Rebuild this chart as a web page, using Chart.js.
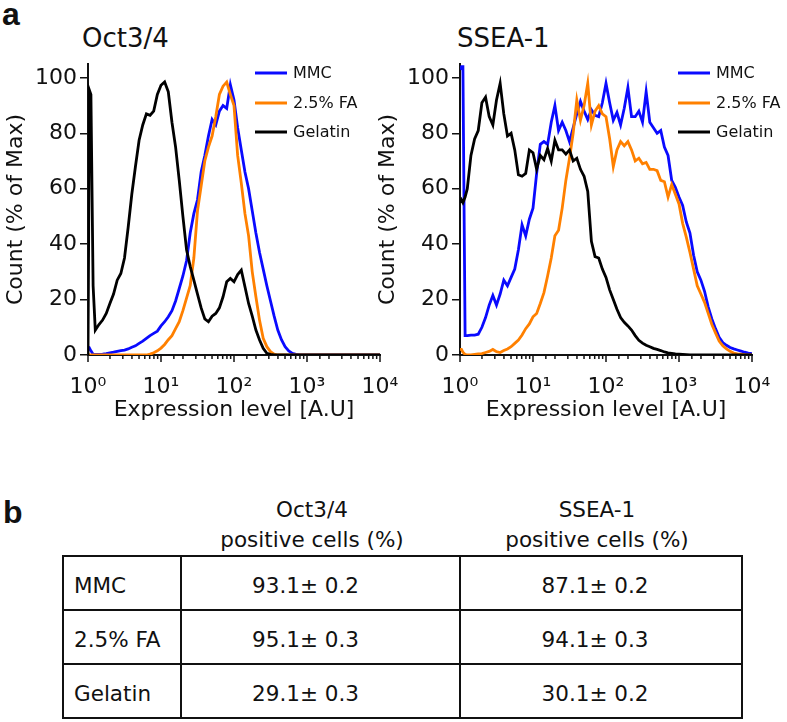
<!DOCTYPE html>
<html>
<head>
<meta charset="utf-8">
<script src="https://cdn.jsdelivr.net/npm/chart.js@4.4.1/dist/chart.umd.min.js"></script>
<style>
  body { margin: 0; background: #fff; }
  #page { position: relative; width: 787px; height: 722px; overflow: hidden; font-family: "DejaVu Sans", sans-serif; color: #111; }
  #page canvas { position: absolute; top: 0; }
  .tag { position: absolute; font-family: "Liberation Sans", Arial, sans-serif; font-weight: bold; font-size: 32px; line-height: 1; }
  .ptitle { position: absolute; font-size: 26px; line-height: 1; }
  #tbl { position: absolute; left: 62px; top: 495px; width: 679px; border-collapse: collapse; table-layout: fixed; font-size: 21.5px; }
  #tbl th { font-weight: normal; line-height: 30px; padding: 0; border: none; text-align: center; vertical-align: bottom; }
  #tbl td { border: 2px solid #111; height: 54px; box-sizing: border-box; padding: 5px 0 0 0; text-align: center; }
  #tbl td.name { text-align: left; padding-left: 10px; }
  #tbl .c2 { padding-right: 30px; }
  #tbl .c3 { padding-right: 12px; }
  #tbl th.c2 { padding-right: 17px; }
  #tbl th.c3 { padding-right: 8px; }
</style>
</head>
<body>
<div id="page">
  <div class="tag" style="left:2px; top:-2px;">a</div>
  <div class="ptitle" style="left:82px; top:25px;">Oct3/4</div>
  <div class="ptitle" style="left:457px; top:25px;">SSEA-1</div>
  <canvas id="oct4" width="410" height="430" style="left:0px;"></canvas>
  <canvas id="ssea" width="415" height="430" style="left:372px;"></canvas>
  <div class="tag" style="left:3px; top:496px;">b</div>
  <table id="tbl">
    <colgroup><col style="width:118px"><col style="width:279px"><col style="width:282px"></colgroup>
    <thead><tr id="thead"></tr></thead>
    <tbody id="tbody"></tbody>
  </table>
</div>
<script>
// histogram bins, as log10 of expression level
const binsLog = [0, 0.02, 0.04, 0.07, 0.1, 0.15, 0.2, 0.25, 0.3, 0.35,
  0.4, 0.45, 0.5, 0.55, 0.6, 0.65, 0.7, 0.75, 0.8, 0.85,
  0.9, 0.95, 1, 1.05, 1.1, 1.15, 1.2, 1.25, 1.3, 1.35,
  1.4, 1.45, 1.5, 1.55, 1.6, 1.65, 1.7, 1.75, 1.8, 1.85,
  1.9, 1.95, 2, 2.05, 2.1, 2.15, 2.2, 2.25, 2.3, 2.35,
  2.4, 2.45, 2.5, 2.55, 2.6, 2.65, 2.7, 2.75, 2.8, 2.85,
  2.9, 2.95, 3, 3.05, 3.1, 3.15, 3.2, 3.25, 3.3, 3.35,
  3.4, 3.45, 3.5, 3.55, 3.6, 3.65, 3.7, 3.75, 3.8, 3.85,
  3.9, 3.95, 4];

const seriesNames = ['MMC', '2.5% FA', 'Gelatin'];
const seriesColors = ['#0a0aff', '#ff8000', '#000000'];

// Oct3/4 panel, count (% of max)
const oct4Mmc = [2, 2.5, 1.5, 0.3, 0.2, 0.2, 0.3, 0.5, 0.8, 1.0,
  1.3, 1.6, 1.8, 2.2, 2.8, 3.3, 4.2, 5.0, 6.0, 7.0,
  7.8, 8.6, 10.5, 12, 13.8, 16, 19.5, 24, 28.5, 34,
  44, 51, 56, 66, 72, 79, 85, 83, 88, 90,
  89, 97.5, 92, 82, 74, 66, 60, 52, 44, 37,
  31, 25, 19.5, 14, 9, 5.5, 3, 1.5, 0.6, 0.2,
  0, 0, 0, 0, 0, 0, 0, 0, 0, 0,
  0, 0, 0, 0, 0, 0, 0, 0, 0, 0,
  0, 0, 0];
const oct4Fa = [0, 0, 0, 0, 0, 0, 0, 0, 0, 0,
  0, 0, 0, 0, 0, 0, 0, 0, 0, 0.3,
  0.8, 1.5, 2.5, 3.8, 5.5, 7, 9.5, 12, 16, 20.5,
  25, 35, 52, 61, 70, 75, 79, 86, 94, 97,
  98.5, 94, 90, 72, 62, 51, 43, 30, 21, 12.5,
  6, 3, 1.2, 0.3, 0, 0, 0, 0, 0, 0,
  0, 0, 0, 0, 0, 0, 0, 0, 0, 0,
  0, 0, 0, 0, 0, 0, 0, 0, 0, 0,
  0, 0, 0];
const oct4Gel = [0, 95.5, 94, 25, 9, 11, 12.6, 15, 18.6, 22,
  27, 29.4, 35, 46, 58, 68, 77.5, 83, 87, 86.5,
  88, 94, 97.3, 98.5, 95, 84, 75, 63, 50, 38,
  32, 27, 22, 17, 13, 12, 14, 15, 17, 21,
  26.4, 27.6, 26.4, 29, 30.6, 24.6, 18.6, 14, 9, 5.4,
  2.4, 0.6, 0.2, 0, 0, 0, 0, 0, 0, 0,
  0, 0, 0, 0, 0, 0, 0, 0, 0, 0,
  0, 0, 0, 0, 0, 0, 0, 0, 0, 0,
  0, 0, 0];

// SSEA-1 panel, count (% of max)
const sseaMmc = [103, 104, 104, 7, 7, 7.2, 7.2, 7.5, 10, 13.5,
  18, 21.5, 18, 22, 27, 25, 28, 31, 38, 47,
  43, 49, 53, 65.5, 76, 77, 76, 84, 90, 81,
  84, 81, 77, 82, 87, 91.5, 88, 85, 88.5, 86.5,
  86, 91, 98, 91, 84.7, 87.5, 83, 89, 96.5, 86,
  86, 88, 84, 95, 84, 82, 80, 81, 75, 72,
  63, 60.5, 57, 54, 48, 44, 36, 30, 27, 23,
  17.4, 13, 9.5, 6.4, 4.5, 3.5, 2.7, 2.2, 1.8, 1.4,
  1.0, 0.7, 0.5];
const sseaFa = [2, 2, 1, 0.2, 0, 0, 0.2, 0.4, 0.5, 0.9,
  1.3, 2, 1.2, 0.9, 1.6, 2.2, 3, 4.2, 5.4, 7.2,
  9.5, 11.2, 13.8, 15, 18.6, 22.5, 28.5, 35, 43, 45,
  53, 63, 71, 80, 92, 84.7, 90, 98, 83, 88,
  90, 87, 86, 78, 68, 74, 77, 75.5, 77, 74,
  70, 71, 69, 69.5, 67, 67, 66.5, 63, 62.5, 57,
  61.5, 58, 54.5, 47.5, 42.5, 37, 31, 25, 22, 19,
  15, 11, 8, 5, 3.3, 2.2, 1.3, 0.7, 0.4, 0.3,
  0.1, 0, 0];
const sseaGel = [55, 56, 55, 57, 60, 72, 78, 81, 91, 93,
  86, 83, 92, 98, 87, 79, 80, 74, 65, 64.5,
  65.5, 74, 73, 67, 72, 70.5, 74.5, 70, 77.5, 74,
  74, 72.5, 74, 70, 71, 67, 64.5, 59, 41, 35.5,
  35, 31, 28, 23.5, 20, 16.5, 13.5, 11.8, 10.5, 9,
  7, 5.3, 4.3, 3.5, 3, 2.4, 2, 1.6, 1.1, 0.8,
  0.6, 0.4, 0.3, 0.2, 0.1, 0, 0, 0, 0, 0,
  0, 0, 0, 0, 0, 0, 0, 0, 0, 0,
  0, 0, 0];

// table b
const tableMarkers = ['Oct3/4', 'SSEA-1'];
const tableRows = ['MMC', '2.5% FA', 'Gelatin'];
const oct4Mean = [93.1, 95.1, 29.1];
const oct4Sd = [0.2, 0.3, 0.3];
const sseaMean = [87.1, 94.1, 30.1];
const sseaSd = [0.2, 0.3, 0.2];

const yTicks = [0, 20, 40, 60, 80, 100];
const sup = ['\u2070', '\u00b9', '\u00b2', '\u00b3', '\u2074'];

const FONT = "'DejaVu Sans', sans-serif";
const INK = '#111';
Chart.defaults.font.family = FONT;
Chart.defaults.color = INK;

function isPow10(v) {
    const l = Math.log10(v);
    return Math.abs(l - Math.round(l)) < 1e-9;
}

// tick marks under the log axis (long at decades) + the little legend in the corner
const histDecor = {
    id: 'histDecor',
    afterDraw(chart, args, opts) {
        const ctx = chart.ctx;
        const x = chart.scales.x;
        ctx.save();
        ctx.strokeStyle = INK;
        ctx.lineWidth = 1.5;
        x.ticks.forEach(t => {
            const px = x.getPixelForValue(t.value);
            const len = isPow10(t.value) ? 7 : 4;
            ctx.beginPath();
            ctx.moveTo(px, x.top);
            ctx.lineTo(px, x.top + len);
            ctx.stroke();
        });
        ctx.font = '16px ' + FONT;
        ctx.textBaseline = 'middle';
        ctx.fillStyle = INK;
        chart.data.datasets.forEach((ds, i) => {
            const y = opts.rows[i];
            ctx.strokeStyle = ds.borderColor;
            ctx.lineWidth = 3;
            ctx.beginPath();
            ctx.moveTo(opts.x, y);
            ctx.lineTo(opts.x + 32, y);
            ctx.stroke();
            ctx.fillText(ds.label, opts.x + 38, y + 1);
        });
        ctx.restore();
    }
};

function makeHist(canvasId, series, legendX) {
    const canvas = document.getElementById(canvasId);
    const datasets = series.map((vals, i) => ({
        label: seriesNames[i],
        data: binsLog.map((e, k) => ({ x: Math.pow(10, e), y: vals[k] })),
        borderColor: seriesColors[i],
        borderWidth: 2.8,
        pointRadius: 0,
        fill: false,
        order: 3 - i   // gelatin drawn on top
    }));

    return new Chart(canvas, {
        type: 'line',
        data: { datasets },
        plugins: [histDecor],
        options: {
            responsive: false,
            animation: false,
            layout: { padding: { left: 0, right: canvas.width - 380, top: 64, bottom: 0 } },
            scales: {
                x: {
                    type: 'logarithmic',
                    min: 1,
                    max: 10000,
                    // fixed axis box; the edge labels fit inside the layout padding
                    afterFit: s => { s.height = 75; s.paddingLeft = 0; s.paddingRight = 0; },
                    ticks: {
                        autoSkip: false,
                        maxRotation: 0,
                        padding: 19,
                        font: { size: 22 },
                        callback: v => isPow10(v) ? '10' + sup[Math.round(Math.log10(v))] : ''
                    },
                    grid: { display: false, drawTicks: false },
                    border: { display: true, color: INK, width: 2 },
                    title: {
                        display: true,
                        text: 'Expression level [A.U]',
                        font: { size: 22 },
                        padding: { top: 0, bottom: 7 }
                    }
                },
                y: {
                    min: 0,
                    max: 105,
                    afterBuildTicks: s => { s.ticks = yTicks.map(v => ({ value: v })); },
                    afterFit: s => { s.width = 88; },
                    ticks: { font: { size: 22 }, padding: 3 },
                    grid: { drawOnChartArea: false, tickLength: 8, color: INK, lineWidth: 1.5 },
                    border: { color: INK, width: 2 },
                    title: {
                        display: true,
                        text: 'Count (% of Max)',
                        font: { size: 22 },
                        padding: { top: 3, bottom: 0 }
                    }
                }
            },
            plugins: {
                legend: { display: false },
                tooltip: { enabled: false },
                histDecor: { x: legendX, rows: [73, 103, 132] }
            }
        }
    });
}

makeHist('oct4', [oct4Mmc, oct4Fa, oct4Gel], 255);
makeHist('ssea', [sseaMmc, sseaFa, sseaGel], 306);

// table b
const head = document.getElementById('thead');
head.innerHTML = '<th></th>' + tableMarkers.map((m, j) =>
    `<th class="c${j + 2}">${m}<br>positive cells (%)</th>`).join('');
const body = document.getElementById('tbody');
tableRows.forEach((name, i) => {
    const tr = document.createElement('tr');
    tr.innerHTML = `<td class="name">${name}</td>` +
        `<td class="c2">${oct4Mean[i].toFixed(1)}\u00b1 ${oct4Sd[i].toFixed(1)}</td>` +
        `<td class="c3">${sseaMean[i].toFixed(1)}\u00b1 ${sseaSd[i].toFixed(1)}</td>`;
    body.appendChild(tr);
});
</script>
</body>
</html>
